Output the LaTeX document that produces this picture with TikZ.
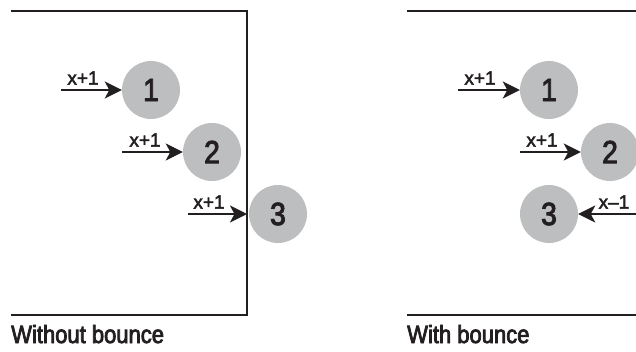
\documentclass[tikz,border=0pt]{standalone}
\usepackage{fontspec}
\setmainfont{Liberation Sans}[FakeBold=2.5]
\newfontfamily\capfont{Liberation Sans}[FakeStretch=0.88,FakeBold=3]
\usetikzlibrary{arrows.meta}
\definecolor{ballgray}{HTML}{BCBEC0}
\definecolor{ink}{HTML}{231F20}
\tikzset{
  ball/.style={circle, fill=ballgray, minimum size=58pt, inner sep=0pt, text=ink, font=\capfont\fontsize{32}{32}\selectfont},
  move/.style={draw=ink, line width=2.6pt, -{Stealth[length=17pt,width=17pt,inset=4.5pt]}},
  wall/.style={draw=ink, line width=2.5pt},
  lbl/.style={text=ink, font=\fontsize{19}{19}\selectfont, inner sep=0pt},
  caption/.style={text=ink, font=\capfont\fontsize{25}{25}\selectfont, inner sep=0pt, anchor=base west}
}
\begin{document}
\begin{tikzpicture}[x=1pt,y=-1pt]
\useasboundingbox (0,0) rectangle (636,351);
% left panel
\draw[wall] (11,11) -- (247,11) -- (247,315) -- (11,315);
\node[ball] (l1) at (151,90) {1};
\node[ball] (l2) at (212,152) {2};
\node[ball] (l3) at (278,214) {3};
\coordinate (la1) at (61,90);
\coordinate (la2) at (122,152);
\coordinate (la3) at (188,214);
\coordinate (lw3) at (247,214);
\draw[move] (la1) -- (l1.west);
\draw[move] (la2) -- (l2.west);
\draw[move] (la3) -- (lw3);
\node[lbl] (lt1) at (83,78) {x+1};
\node[lbl] (lt2) at (145,140) {x+1};
\node[lbl] (lt3) at (209,202) {x+1};
\node[caption] (cap1) at (11,343) {Without bounce};
% right panel
\draw[wall] (407,11) -- (636,11);
\draw[wall] (407,315) -- (636,315);
\node[ball] (r1) at (549,90) {1};
\node[ball] (r2) at (610,152) {2};
\node[ball] (r3) at (549,214) {3};
\coordinate (ra1) at (458,90);
\coordinate (ra2) at (520,152);
\coordinate (ra3) at (636,214);
\draw[move] (ra1) -- (r1.west);
\draw[move] (ra2) -- (r2.west);
\draw[move] (ra3) -- (r3.east);
\node[lbl] (rt1) at (480,78) {x+1};
\node[lbl] (rt2) at (542,140) {x+1};
\node[lbl] (rt3) at (614,202) {x–1};
\node[caption] (cap2) at (407,343) {With bounce};
\end{tikzpicture}
\end{document}
